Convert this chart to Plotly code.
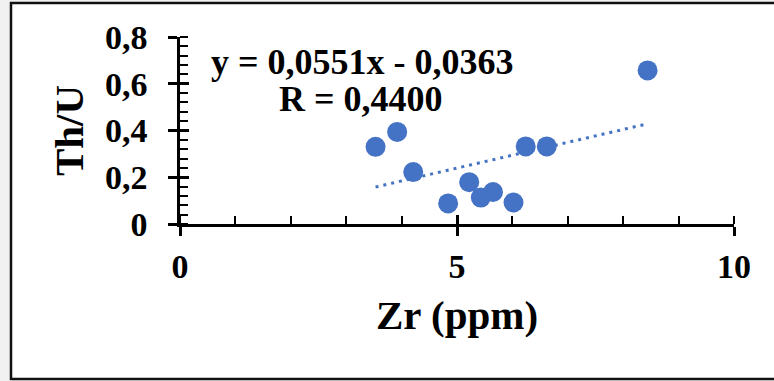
import plotly.graph_objects as go

# ---- data ----
zr_ppm = [3.53, 3.92, 4.21, 4.84, 5.22, 5.43, 5.65, 6.02, 6.24, 6.62, 8.44]
th_u = [0.330, 0.394, 0.222, 0.088, 0.179, 0.113, 0.137, 0.092, 0.332, 0.332, 0.657]
trend_slope = 0.0551
trend_intercept = -0.0363
equation_text = "y = 0,0551x - 0,0363"
r_text = "R = 0,4400"
x_tickvals = [0, 5, 10]
x_ticktext = ["0", "5", "10"]
y_tickvals = [0, 0.2, 0.4, 0.6, 0.8]
y_ticktext = ["0", "0,2", "0,4", "0,6", "0,8"]
x_title = "Zr (ppm)"
y_title = "Th/U"

W, H = 774, 381
ML, MR, MT, MB = 180, 40, 37, 157
PW, PH = W - ML - MR, H - MT - MB

def px_x(p):
    return (p - ML) / PW

def px_y(p):
    return (H - MB - p) / PH

BLUE = "#4472C4"
FONT = "Liberation Serif"

trend_x = [min(zr_ppm), max(zr_ppm)]
trend_y = [trend_slope * v + trend_intercept for v in trend_x]

fig = go.Figure()
fig.add_trace(go.Scatter(
    x=trend_x, y=trend_y, mode="lines",
    line=dict(color=BLUE, width=3, dash="3px,5px"),
    showlegend=False, hoverinfo="skip", cliponaxis=False))
fig.add_trace(go.Scatter(
    x=zr_ppm, y=th_u, mode="markers",
    marker=dict(color=BLUE, size=20, line=dict(width=0)),
    showlegend=False, cliponaxis=False))
# empty trace to activate overlay axes (for crossing major ticks)
fig.add_trace(go.Scatter(x=[None], y=[None], xaxis="x2", yaxis="y2",
                         showlegend=False, hoverinfo="skip"))

tickfont = dict(family=FONT, size=34, color="black", weight="bold")
titlefont = dict(family=FONT, size=41, color="black", weight="bold")
annfont = dict(family=FONT, size=36, color="black", weight="bold")

fig.update_layout(
    width=W, height=H,
    margin=dict(l=ML, r=MR, t=MT, b=MB, pad=0),
    paper_bgcolor="#f1f1f1",
    plot_bgcolor="white",
    xaxis=dict(
        range=[0, 10], tickmode="array", tickvals=x_tickvals, ticktext=x_ticktext,
        ticks="outside", ticklen=9, tickwidth=2.5, tickcolor="black",
        showline=True, linewidth=2.5, linecolor="black",
        showgrid=False, zeroline=False, tickfont=tickfont,
        ticklabelstandoff=1,
        minor=dict(ticks="inside", dtick=1, tick0=0, ticklen=8, tickwidth=2,
                   tickcolor="black", showgrid=False),
        title=dict(text=x_title, font=titlefont, standoff=17),
        automargin=False, fixedrange=True,
    ),
    yaxis=dict(
        range=[0, 0.8], tickmode="array", tickvals=y_tickvals, ticktext=y_ticktext,
        ticks="outside", ticklen=9, tickwidth=2.5, tickcolor="black",
        showline=True, linewidth=2.5, linecolor="black",
        showgrid=False, zeroline=False, tickfont=tickfont,
        ticklabelstandoff=14,
        minor=dict(ticks="inside", dtick=0.04, tick0=0, ticklen=8, tickwidth=2,
                   tickcolor="black", showgrid=False),
        title=dict(text=y_title, font=titlefont, standoff=9),
        automargin=False, fixedrange=True,
    ),
    xaxis2=dict(
        overlaying="x", anchor="y", side="bottom", range=[0, 10],
        tickmode="array", tickvals=x_tickvals, ticks="inside", ticklen=9,
        tickwidth=2.5, tickcolor="black", showticklabels=False,
        showgrid=False, zeroline=False, showline=False, automargin=False,
    ),
    yaxis2=dict(
        overlaying="y", anchor="x", side="left", range=[0, 0.8],
        tickmode="array", tickvals=y_tickvals, ticks="inside", ticklen=9,
        tickwidth=2.5, tickcolor="black", showticklabels=False,
        showgrid=False, zeroline=False, showline=False, automargin=False,
    ),
    shapes=[dict(
        type="rect", xref="paper", yref="paper", layer="below",
        x0=px_x(11), x1=px_x(790), y0=px_y(379), y1=px_y(3),
        line=dict(color="#111111", width=2.5), fillcolor="white",
    )],
    annotations=[
        dict(text=equation_text, xref="paper", yref="paper",
             x=px_x(362), y=px_y(62), showarrow=False,
             xanchor="center", yanchor="middle", font=annfont),
        dict(text=r_text, xref="paper", yref="paper",
             x=px_x(361), y=px_y(99), showarrow=False,
             xanchor="center", yanchor="middle", font=annfont),
    ],
)

fig.write_html("out.html", config={"displayModeBar": False})
